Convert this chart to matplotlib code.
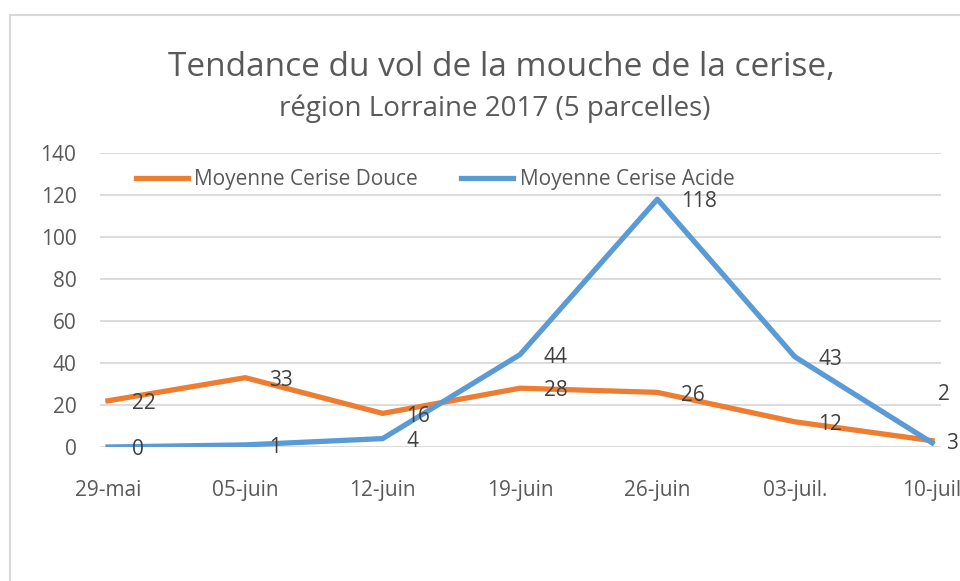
import matplotlib
matplotlib.use("Agg")
from matplotlib import pyplot as plt
from matplotlib.patches import Rectangle

dates = ['29-mai', '05-juin', '12-juin', '19-juin', '26-juin', '03-juil.', '10-juil']
douce = [22, 33, 16, 28, 26, 12, 3]
acide = [0, 1, 4, 44, 118, 43, 2]

plt.rcParams['font.family'] = ['Open Sans', 'DejaVu Sans']

ORANGE = '#ED7D31'
BLUE = '#5B9BD5'
GREY = '#595959'

fig = plt.figure(figsize=(9.6, 5.81), dpi=100)
# cadre du graphique (coupé à droite et en bas)
fig.patches.append(Rectangle((10 / 960, -0.1), 2, 1.1 - 15 / 581, transform=fig.transFigure,
                             fill=False, edgecolor='#D9D9D9', linewidth=1.5))

ax = fig.add_axes([100 / 960, 134 / 581, 841 / 960, 294 / 581])
x = list(range(len(dates)))

l1, = ax.plot(x, douce, color=ORANGE, lw=3.8, label='Moyenne Cerise Douce', solid_joinstyle='round', zorder=3)
l2, = ax.plot(x, acide, color=BLUE, lw=3.8, label='Moyenne Cerise Acide', solid_joinstyle='round', zorder=3)

last = len(dates) - 1
for i, v in enumerate(douce):
    dx = 10 if i == last else 17
    ax.annotate(str(v), (i, v), xytext=(dx, -2), textcoords='offset points',
                ha='left', va='center', fontsize=15, color='#404040', zorder=4,
                annotation_clip=False)
for i, v in enumerate(acide):
    dx, dy = 17, -2
    if i == last:
        dx, dy = 4, 35
    ax.annotate(str(v), (i, v), xytext=(dx, dy), textcoords='offset points',
                ha='left', va='center', fontsize=15, color='#404040', zorder=4,
                annotation_clip=False)

ax.set_xlim(-0.058, 6.065)
ax.set_ylim(0, 140)
ax.set_yticks(range(0, 141, 20))
ax.set_xticks(x)
ax.set_xticklabels(dates)
ax.grid(axis='y', color='#D9D9D9', lw=1.3)
ax.set_axisbelow(True)
for s in ax.spines.values():
    s.set_visible(False)
ax.tick_params(length=0, labelsize=15, colors=GREY)
ax.tick_params(axis='x', pad=24)
ax.tick_params(axis='y', pad=17)

ax.legend(handles=[l1, l2], loc='upper left', bbox_to_anchor=(0.02, 1.01), ncol=2, frameon=False,
          fontsize=15, labelcolor=GREY, handlelength=2.5, columnspacing=2.1, handletextpad=0.3)

fig.text(0.522, 0.884, 'Tendance du vol de la mouche de la cerise,', ha='center', va='center',
         fontsize=24, color=GREY)
fig.text(0.515, 0.813, 'région Lorraine 2017 (5 parcelles)', ha='center', va='center',
         fontsize=20, color=GREY)

fig.savefig('out.png', dpi=100)
